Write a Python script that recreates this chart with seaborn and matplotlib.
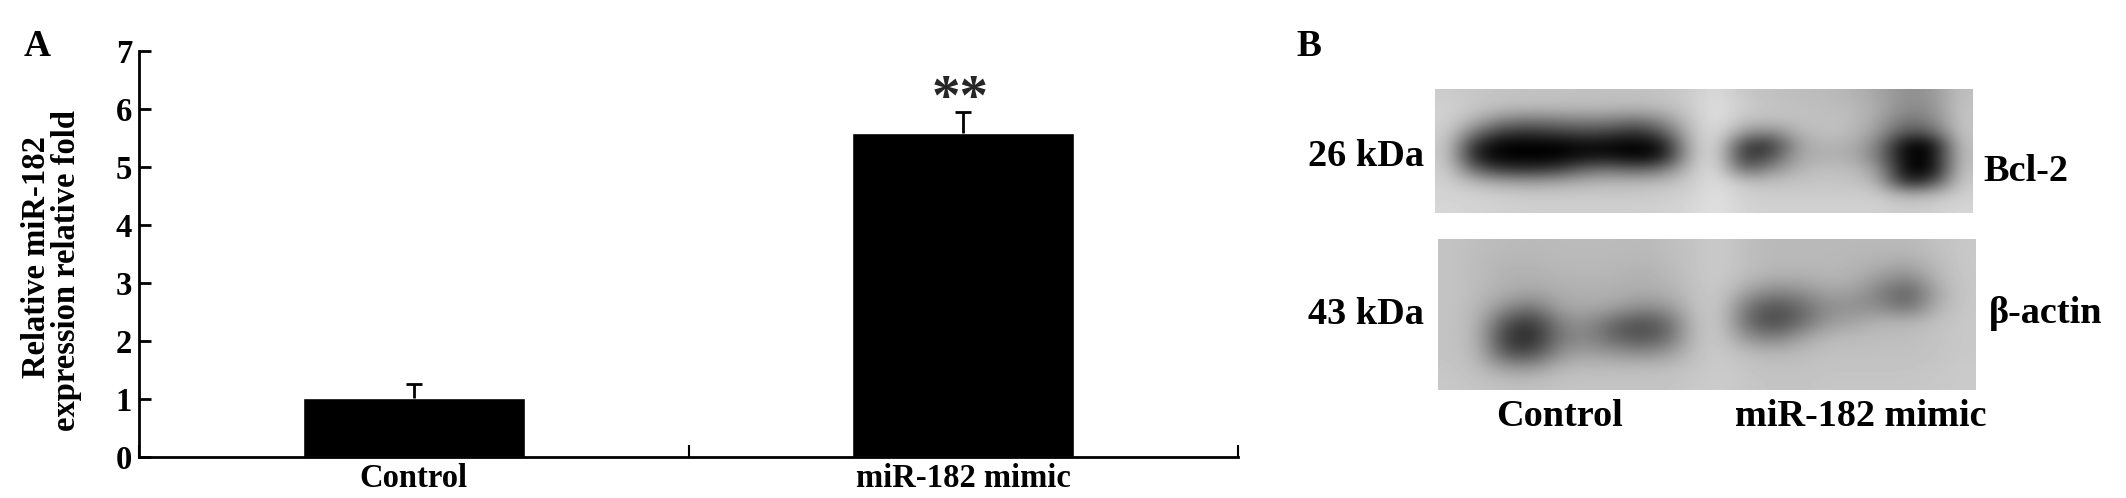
import matplotlib
matplotlib.use("Agg")
import matplotlib.pyplot as plt
import numpy as np
import pandas as pd
import seaborn as sns

groups = ["Control", "miR-182 mimic"]
fold = [1.02, 5.59]
fold_err = [0.24, 0.35]
y_ticks = [0, 1, 2, 3, 4, 5, 6, 7]

bcl2_blot = [
    [185,180,178,176,176,175,175,175,178,185,200,180,175,172,170,165,150,130,135,175],
    [190,180,170,168,168,168,168,165,170,185,205,185,178,175,172,170,155,125,130,178],
    [190,160,120,110,115,120,120,105,130,180,205,175,172,175,175,172,150,105,120,180],
    [188,105,50,45,55,65,60,40,80,175,205,135,120,165,175,170,140,70,85,180],
    [185,35,0,0,0,10,5,0,15,170,205,50,45,150,165,160,120,0,0,178],
    [185,25,0,0,0,15,20,0,20,170,205,40,75,155,160,160,115,0,0,175],
    [188,90,50,45,55,95,105,90,110,178,205,90,130,165,175,172,145,0,0,180],
    [190,165,150,145,150,160,165,165,170,185,205,175,175,178,180,178,165,30,60,185],
    [192,190,185,182,182,182,182,182,185,190,205,188,185,185,185,185,185,155,165,188],
    [195,192,190,188,188,188,188,188,190,195,205,192,190,190,190,190,190,185,188,195],
]
actin_blot = [
    [178,172,170,168,170,170,170,168,172,178,185,172,168,168,168,168,168,168,175,182],
    [178,170,165,165,168,168,168,165,170,178,185,172,168,168,168,165,162,155,170,182],
    [178,170,162,160,165,165,165,160,165,178,185,170,160,160,165,162,140,125,165,182],
    [178,170,158,150,158,160,160,155,160,175,185,145,120,130,150,145,115,80,150,182],
    [178,168,130,105,150,155,150,130,135,175,185,105,70,95,130,130,125,95,160,182],
    [178,165,75,45,120,135,95,70,90,172,185,95,60,95,140,150,165,165,175,182],
    [178,165,50,30,110,125,90,70,90,172,185,130,110,145,168,170,172,172,178,182],
    [178,168,70,60,130,145,135,125,135,175,185,170,165,170,175,175,175,175,178,182],
    [180,172,140,135,165,170,170,170,172,178,185,178,175,175,178,178,178,178,180,184],
    [182,178,175,175,178,178,178,178,178,182,186,180,178,178,180,180,180,180,182,184],
]

sns.set_style("white")
plt.rcParams["font.family"] = ["Liberation Serif", "DejaVu Serif"]
plt.rcParams["font.weight"] = "bold"

W, H = 2126, 498
fig = plt.figure(figsize=(W / 100, H / 100), dpi=100, facecolor="white")


def axes_px(x0, y0, x1, y1):
    return fig.add_axes([x0 / W, 1 - y1 / H, (x1 - x0) / W, (y1 - y0) / H])


def text_px(x, y, s, size, **kw):
    kw.setdefault("ha", "center")
    kw.setdefault("va", "center")
    fig.text(x / W, 1 - y / H, s, fontsize=size, fontweight="bold", color="black", **kw)


# Panel A: bars
ax = axes_px(139, 50.7, 1238, 457.3)
ax.set_facecolor("white")
df = pd.DataFrame({"group": groups, "fold": fold})
sns.barplot(data=df, x="group", y="fold", color="black", saturation=1,
            width=0.404, errorbar=None, ax=ax)
_, caps, _ = ax.errorbar(range(len(groups)), fold, yerr=[[0, 0], fold_err], fmt="none",
                         ecolor="black", elinewidth=2, capsize=6, capthick=2)
caps[0].set_visible(False)
ax.set_xlim(-0.5, 1.5)
ax.set_ylim(0, 7)
ax.set_yticks(y_ticks, [str(v) for v in y_ticks])
ax.set_xticks([-0.5, 0.5, 1.5], ["", "", ""])
ax.set_xticks([0, 1], groups, minor=True)
ax.set_xlabel("")
ax.set_ylabel("")
for side in ("top", "right"):
    ax.spines[side].set_visible(False)
for side in ("left", "bottom"):
    ax.spines[side].set_linewidth(2)
    ax.spines[side].set_color("black")
    ax.spines[side].set_zorder(5)
ax.tick_params(axis="y", direction="in", length=8.3, width=2, pad=5, labelsize=23.5, colors="black", left=True)
ax.tick_params(axis="x", which="major", direction="in", length=8.5, width=1.5, colors="black", bottom=True)
ax.tick_params(axis="x", which="minor", length=0, pad=4, labelsize=23.5, colors="black")
ax.text(0.995, fold[1] + fold_err[0] + 0.32, "**", ha="center", va="center", fontsize=41, fontweight="bold")

text_px(37, 257, "Relative miR-182", 23.5, rotation=90)
text_px(67, 271, "expression relative fold", 23.5, rotation=90)
text_px(37, 47, "A", 27)
text_px(1309, 47, "B", 27)

# Panel B: blots
for grid, box in ((bcl2_blot, (1435, 89, 1973, 213)), (actin_blot, (1438, 239, 1976, 390))):
    bx = axes_px(*box)
    bx.imshow(np.array(grid), cmap="gray", vmin=0, vmax=232, aspect="auto", interpolation="bicubic")
    bx.axis("off")

text_px(1366, 156, "26 kDa", 27.5)
text_px(1366, 314, "43 kDa", 27.5)
text_px(2026, 171, "Bcl-2", 27.5)
text_px(2046, 313, "β-actin", 27.5)
text_px(1559, 416, "Control", 27.5)
text_px(1861, 416, "miR-182 mimic", 27.5)

fig.savefig("out.png", dpi=100, facecolor="white")
